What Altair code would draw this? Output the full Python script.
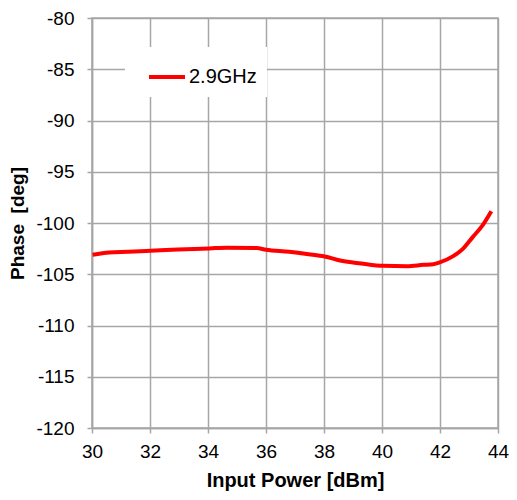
import altair as alt
import pandas as pd

x_vals = [30.02, 30.59, 31.26, 32.02, 32.96, 34.05, 34.65, 35.67, 36.0, 36.8, 37.47,
          38.02, 38.6, 39.28, 40.04, 40.86, 41.43, 41.77, 41.99, 42.44, 42.78, 43.12,
          43.46, 43.77]
y_vals = [-103.10, -102.87, -102.81, -102.71, -102.58, -102.48, -102.41, -102.45, -102.61,
          -102.81, -103.04, -103.26, -103.69, -103.95, -104.18, -104.21, -104.08, -104.02,
          -103.85, -103.26, -102.55, -101.40, -100.26, -98.85]
series = ["2.9GHz"] * len(x_vals)

df = pd.DataFrame({"x": x_vals, "y": y_vals, "s": series})

FONT = "Liberation Sans"
GRID = "#a6a6a6"

chart = alt.Chart(df).mark_line(strokeWidth=4, interpolate="monotone").encode(
    x=alt.X("x:Q", scale=alt.Scale(domain=[30, 44], nice=False),
            axis=alt.Axis(title="Input Power [dBm]", values=list(range(30, 45, 2)),
                          labelPadding=9, titlePadding=9, labelFlush=False,
                          labelExpr="'' + datum.value", titleFontSize=20)),
    y=alt.Y("y:Q", scale=alt.Scale(domain=[-120, -80], nice=False),
            axis=alt.Axis(title="Phase\u00a0 [deg]", values=list(range(-120, -79, 5)),
                          labelPadding=13, titlePadding=8,
                          labelExpr="'' + datum.value", titleFontSize=19)),
    color=alt.Color("s:N", scale=alt.Scale(range=["#ff0000"]),
                    legend=alt.Legend(title=None, orient="none", legendX=33, legendY=29,
                                      fillColor="white", padding=10, symbolOffset=12,
                                      symbolType="stroke",
                                      symbolStrokeWidth=4, symbolSize=1296,
                                      labelFontSize=20, labelFont=FONT, labelColor="black",
                                      labelOffset=2, labelLimit=200)),
).properties(
    width=406, height=410,
    autosize=alt.AutoSizeParams(type="none"),
    padding={"left": 84, "top": 10, "right": 11, "bottom": 64},
).configure_axis(
    grid=True, gridColor=GRID, gridWidth=1.5, domainColor=GRID, domainWidth=1.5,
    tickColor=GRID, tickSize=5, tickWidth=1.5,
    labelFont=FONT, labelFontSize=19, labelColor="black",
    titleFont=FONT, titleFontWeight="bold", titleColor="black",
).configure_view(stroke=GRID, strokeWidth=1.5)

chart.save("out.html", embed_options={"renderer": "svg", "actions": False})
